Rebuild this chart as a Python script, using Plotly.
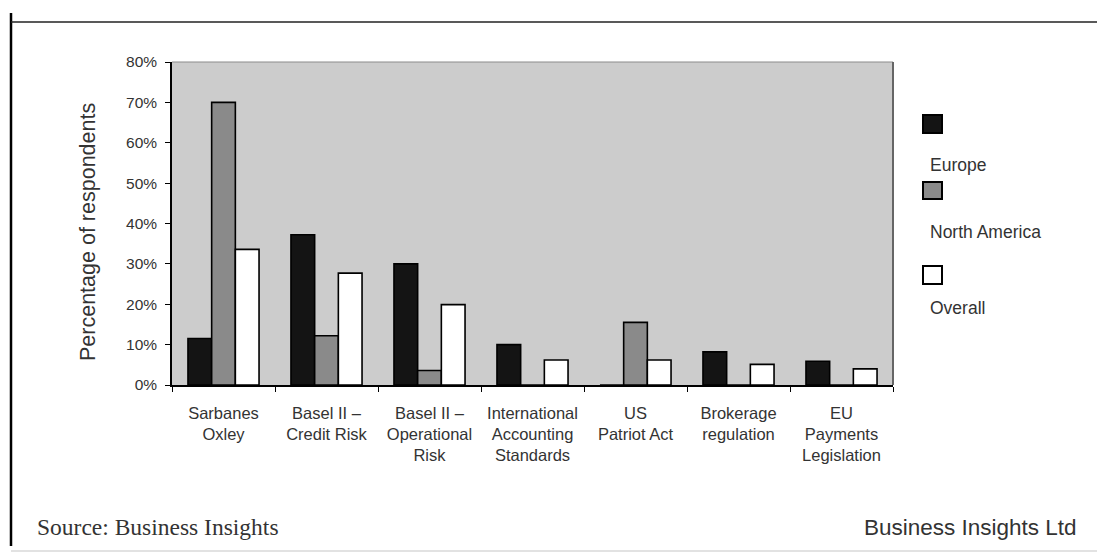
import plotly.graph_objects as go

categories = [
    "Sarbanes<br>Oxley",
    "Basel II –<br>Credit Risk",
    "Basel II –<br>Operational<br>Risk",
    "International<br>Accounting<br>Standards",
    "US<br>Patriot Act",
    "Brokerage<br>regulation",
    "EU<br>Payments<br>Legislation",
]
series_names = ["Europe", "North America", "Overall"]
europe = [11.5, 37.2, 30.0, 10.0, 0.0, 8.2, 5.9]
north_america = [70.0, 12.2, 3.6, 0.0, 15.5, 0.0, 0.0]
overall = [33.6, 27.7, 19.9, 6.2, 6.2, 5.1, 4.0]
y_ticks = [0, 10, 20, 30, 40, 50, 60, 70, 80]
y_tick_labels = ["0%", "10%", "20%", "30%", "40%", "50%", "60%", "70%", "80%"]
y_title = "Percentage of respondents"

colors = ["#141414", "#8a8a8a", "#ffffff"]
values = [europe, north_america, overall]

# page body has an 8px margin; compensate so screen positions match
OFF = 8
W, H = 1105 - OFF, 554 - OFF
L, R, T, B = 172, 893, 62, 385  # screen pixel positions of plot area

fig = go.Figure()
for name, vals, col in zip(series_names, values, colors):
    fig.add_trace(go.Bar(
        x=categories, y=vals, name=name,
        marker=dict(color=col, line=dict(color="#000000", width=1.6)),
        showlegend=False,
    ))

def px_x(px):
    return (px - L) / (R - L)

def px_y(py):
    return (B - py) / (B - T)

shapes = []
annotations = []
# plot-area top and right borders (lighter than the axes)
shapes.append(dict(type="line", xref="paper", yref="paper", x0=0, x1=1, y0=1, y1=1,
                   line=dict(color="#8c8c8c", width=1.2)))
shapes.append(dict(type="line", xref="paper", yref="paper", x0=1, x1=1, y0=0, y1=1,
                   line=dict(color="#666666", width=2)))

# custom legend: square above label
leg_sq_y = [(115, 133), (182, 199), (266, 284)]
leg_txt_y = [165, 232, 308]
for (y0, y1), ty, name, col in zip(leg_sq_y, leg_txt_y, series_names, colors):
    shapes.append(dict(type="rect", xref="paper", yref="paper",
                       x0=px_x(923), x1=px_x(942), y0=px_y(y1), y1=px_y(y0),
                       fillcolor=col, line=dict(color="#000000", width=2)))
    annotations.append(dict(text=name, xref="paper", yref="paper",
                            x=px_x(928), y=px_y(ty), xanchor="left", yanchor="middle",
                            showarrow=False,
                            font=dict(family="Liberation Sans, Arial", size=17.5, color="#333333")))

# y-axis title
annotations.append(dict(text=y_title, xref="paper", yref="paper",
                        x=px_x(88), y=px_y(232), xanchor="center", yanchor="middle",
                        textangle=-90, showarrow=False,
                        font=dict(family="Liberation Sans, Arial", size=21.5, color="#333333")))

# outer frame lines
shapes.append(dict(type="line", xref="paper", yref="paper",
                   x0=px_x(11), x1=px_x(11), y0=px_y(13), y1=px_y(546),
                   line=dict(color="#000000", width=2.5)))
shapes.append(dict(type="line", xref="paper", yref="paper",
                   x0=px_x(11), x1=px_x(1105), y0=px_y(22), y1=px_y(22),
                   line=dict(color="#222222", width=1.5)))
shapes.append(dict(type="line", xref="paper", yref="paper",
                   x0=px_x(11), x1=px_x(1105), y0=px_y(551), y1=px_y(551),
                   line=dict(color="#d8d8d8", width=1.5)))

annotations.append(dict(text="Source: Business Insights", xref="paper", yref="paper",
                        x=px_x(35), y=px_y(527), xanchor="left", yanchor="middle",
                        showarrow=False,
                        font=dict(family="Liberation Serif, Times New Roman", size=23.5, color="#333333")))
annotations.append(dict(text="Business Insights Ltd", xref="paper", yref="paper",
                        x=px_x(1079), y=px_y(527), xanchor="right", yanchor="middle",
                        showarrow=False,
                        font=dict(family="Liberation Sans, Arial", size=22.5, color="#333333")))

fig.update_layout(
    width=W, height=H,
    margin=dict(l=L - OFF, r=W + OFF - R, t=T - OFF, b=H + OFF - B, pad=0),
    paper_bgcolor="#ffffff",
    plot_bgcolor="#cccccc",
    barmode="group",
    bargap=0.31,
    bargroupgap=0.0,
    shapes=shapes,
    annotations=annotations,
    font=dict(family="Liberation Sans, Arial", color="#333333"),
)
fig.update_xaxes(
    type="category",
    showline=True, linecolor="#000000", linewidth=1.5,
    ticks="outside", tickson="boundaries", ticklen=5, tickcolor="#000000",
    tickfont=dict(family="Liberation Sans, Arial", size=16.5, color="#333333"),
    showgrid=False,
    ticklabelstandoff=12,
)
fig.update_yaxes(
    range=[0, 80],
    tickvals=y_ticks, ticktext=y_tick_labels,
    showline=True, linecolor="#000000", linewidth=1.5,
    ticks="outside", ticklen=5, tickcolor="#000000",
    tickfont=dict(family="Liberation Sans, Arial", size=15.5, color="#333333"),
    ticklabelstandoff=5,
    showgrid=False, zeroline=False,
)

fig.write_html("out.html")
